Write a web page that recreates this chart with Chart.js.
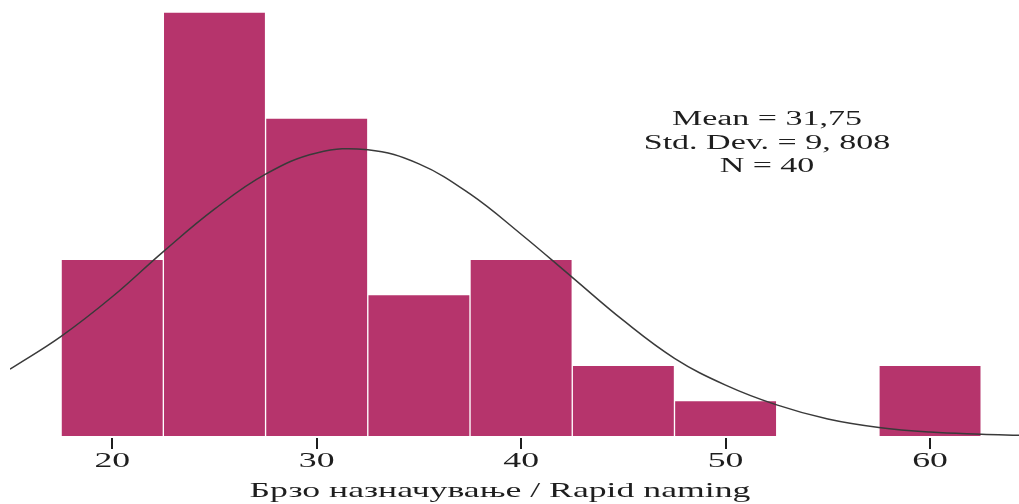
<!DOCTYPE html>
<html>
<head>
<meta charset="utf-8">
<script src="https://cdn.jsdelivr.net/npm/chart.js@4"></script>
<style>
    html, body { margin: 0; padding: 0; background: #fff; }
    #wrap { width: 1019px; height: 504px; }
</style>
</head>
<body>
<div id="wrap"><canvas id="myChart"></canvas></div>
<script>
// histogram bins (centre of each 5-wide bin) and frequencies
const binCenters = [20, 25, 30, 35, 40, 45, 50, 55, 60];
const counts = [5, 12, 9, 4, 5, 2, 1, 0, 2];

// normal curve
const curveX = [15, 17.5, 20, 22.5, 25, 27.5, 30, 32.5, 35, 37.5, 40, 42.5, 45, 47.5, 50, 52.5, 55, 57.5, 60, 62.5, 64.4];
const curveY = [1.89, 2.82, 3.94, 5.22, 6.42, 7.41, 8.01, 8.1, 7.7, 6.85, 5.71, 4.49, 3.27, 2.2, 1.44, 0.88, 0.48, 0.24, 0.11, 0.05, 0.02];

const tickValues = [20, 30, 40, 50, 60];
const axisTitle = "Брзо назначување / Rapid naming";
const statLines = ["Mean = 31,75", "Std. Dev. = 9, 808", "N = 40"];

const serif = '"Liberation Serif", "DejaVu Serif", serif';
// the source picture is stretched sideways, so its text is too
const stretch = 1.7;

function getPoints(xs, ys) {
    let pts = [];
    for (let i = 0; i < xs.length; i++) {
        pts.push({x: xs[i], y: ys[i]});
    }
    return pts;
}

function wideText(ctx, text, x, y) {
    ctx.save();
    ctx.translate(x, y);
    ctx.scale(stretch, 1);
    ctx.fillText(text, 0, 0);
    ctx.restore();
}

const chartText = {
    id: "chartText",
    afterDraw: function (chart) {
        const ctx = chart.ctx;
        const xScale = chart.scales.x;
        const base = chart.scales.y.getPixelForValue(0);
        ctx.save();
        ctx.fillStyle = "#1e1e1e";

        // tick marks
        for (let i = 0; i < tickValues.length; i++) {
            const px = Math.round(xScale.getPixelForValue(tickValues[i]));
            ctx.fillRect(px - 1, base + 2, 2, 11);
        }

        ctx.textAlign = "center";
        ctx.textBaseline = "alphabetic";

        // tick labels
        ctx.font = "21px " + serif;
        for (let i = 0; i < tickValues.length; i++) {
            wideText(ctx, String(tickValues[i]), xScale.getPixelForValue(tickValues[i]), base + 31);
        }

        // axis title
        wideText(ctx, axisTitle, 500, base + 61);

        // stats box
        ctx.font = "20px " + serif;
        for (let i = 0; i < statLines.length; i++) {
            wideText(ctx, statLines[i], 767, 125 + i * 23.5);
        }
        ctx.restore();
    }
};

new Chart("myChart", {
    type: "bar",
    data: {
        datasets: [{
                type: "line",
                order: 0,
                data: getPoints(curveX, curveY),
                borderColor: "#3a3a3a",
                borderWidth: 1.5,
                pointRadius: 0,
                tension: 0.4,
                fill: false
            }, {
                type: "bar",
                order: 1,
                data: getPoints(binCenters, counts),
                backgroundColor: "#B6346C",
                borderColor: "#ffffff",
                borderWidth: 1,
                barPercentage: 1.0,
                categoryPercentage: 1.0
            }]
    },
    options: {
        responsive: true,
        maintainAspectRatio: false,
        animation: false,
        layout: {
            padding: {left: 10, right: 0, top: 12, bottom: 0}
        },
        plugins: {
            legend: {display: false},
            tooltip: {enabled: false}
        },
        scales: {
            x: {
                type: "linear",
                offset: false,
                min: 15,
                max: 64.35,
                afterBuildTicks: function (scale) {
                    scale.ticks = tickValues.map(v => ({value: v}));
                },
                afterFit: function (scale) {
                    scale.height = 68;
                },
                border: {display: false},
                grid: {display: false},
                // labels and marks are drawn by the plugin (stretched text)
                ticks: {display: false},
                title: {display: false}
            },
            y: {
                display: false,
                min: 0,
                max: 12
            }
        }
    },
    plugins: [chartText]
});
</script>
</body>
</html>
